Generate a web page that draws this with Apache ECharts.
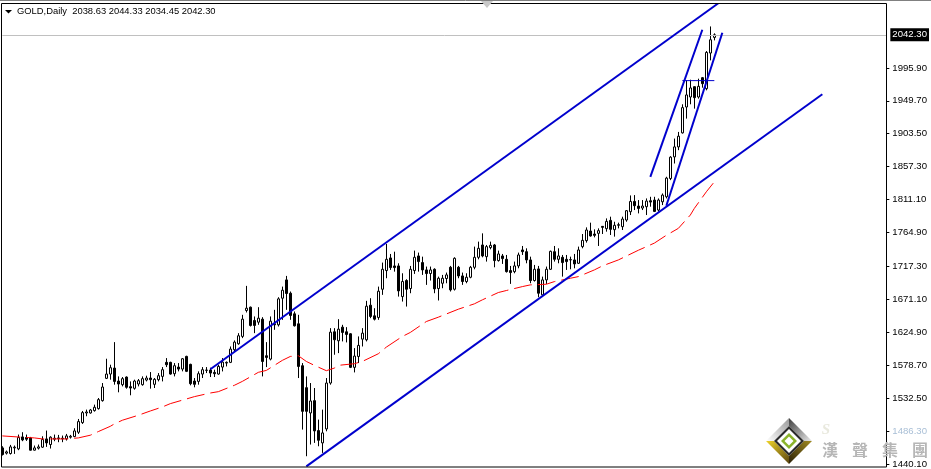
<!DOCTYPE html>
<html><head><meta charset="utf-8">
<style>html,body{margin:0;padding:0;background:#fff}#c{width:931px;height:469px}</style>
<script src="https://cdn.jsdelivr.net/npm/echarts@6/dist/echarts.min.js"></script>
</head><body><div id="c"></div>
<script>
const symbolName = 'GOLD,Daily';
const quote = [2038.63, 2044.33, 2034.45, 2042.30];
const priceTicks = [1995.90,1949.70,1903.50,1857.30,1811.10,1764.90,1717.30,1671.10,1624.90,1578.70,1532.50,1486.30,1440.10];
const lastPrice = 2042.30;
// [open, close, low, high]
const candles = [
[1462.7,1453.4,1452,1465],[1455.3,1457.1,1453.4,1459],[1454.8,1464.1,1453.4,1466.9],[1462.7,1463.7,1454.3,1466],
[1461.3,1477.2,1459.5,1481.4],[1478.1,1473.9,1472.1,1484.7],[1477.2,1474.9,1472.5,1481.4],[1476.7,1459.5,1459,1478.1],
[1459.5,1462.7,1459,1466],[1462.3,1464.1,1460.4,1467.4],[1463.7,1474.4,1462.7,1479],[1475.3,1469.7,1464.1,1487],
[1467.4,1477.7,1461.8,1479],[1474.9,1476.3,1472.1,1481.4],[1475.8,1476.7,1470.7,1480.9],[1475.3,1476.3,1470.7,1480],
[1475.3,1479.5,1473,1482.3],[1477.7,1479,1475.8,1480.9],[1478.6,1486.5,1477.7,1490.3],[1484.7,1499.6,1482.3,1503.3],
[1498.2,1512.2,1496.3,1514.5],[1511.7,1513.1,1507.1,1516.4],[1511.7,1515.9,1510.8,1517.3],[1515,1519.7,1513.6,1523.4],
[1517.8,1530.4,1516.4,1532.7],[1529,1548.1,1527.6,1553.7],[1560.3,1566.3,1559.3,1587.8],[1566.3,1575.2,1558.4,1579.4],
[1574.7,1556,1551.4,1611.1],[1556.5,1552.3,1540.7,1563],[1551.4,1559.8,1549,1562.1],[1562.1,1547.7,1545.8,1563],
[1548.6,1546.7,1536.5,1556],[1546.3,1556.5,1544.4,1558.4],[1552.3,1557,1549,1559.3],[1551.4,1559.8,1550,1563],
[1557.9,1560.7,1556,1564],[1560.7,1558.4,1545.8,1569.1],[1551.9,1558.9,1546.7,1560.7],[1558.4,1564,1556,1567.7],
[1563,1572.4,1556,1576.1],[1582.7,1579.4,1576.1,1588.7],[1582.7,1566.3,1565.4,1583.6],[1566.8,1578,1563,1581.7],
[1576.1,1573.3,1570.1,1581.7],[1573.3,1587.8,1570.1,1588.7],[1591.1,1570.1,1569.1,1592],[1579.9,1552.8,1550.5,1580.8],
[1556.5,1551.9,1547.7,1560.7],[1556,1566.8,1551.4,1570.1],[1566.3,1572.4,1560.7,1576.1],[1571.5,1571.9,1567.7,1576.1],
[1571.9,1567.7,1562.1,1575.2],[1568.6,1566.8,1562.1,1572.4],[1566.3,1577,1565.4,1579.4],[1576.1,1583.1,1570,1588.7],
[1581.7,1582.7,1577,1584],[1582.7,1601.3,1581.7,1605],[1600.4,1611.1,1598.1,1613.5],[1608.8,1620,1607.4,1623.7],
[1619.1,1643.3,1616.7,1649.4],[1655.5,1658.7,1652.7,1690],[1660.1,1634.5,1633,1661],[1641.5,1634.5,1623.7,1647.1],
[1639.1,1644.7,1635.4,1660.1],[1643.3,1584,1563,1646.1],[1592,1589.6,1576.1,1611.1],[1587.3,1640.5,1585.5,1647.1],
[1636.8,1635.4,1628.4,1656.4],[1635.4,1671.8,1633,1674.1],[1672.7,1683.9,1642.4,1689],[1698.4,1679.3,1656.4,1704],
[1679.7,1648.5,1642.4,1682.1],[1650.8,1634,1633,1654.1],[1636.8,1577,1560.7,1649.4],[1578,1514,1488.4,1581.7],
[1547.2,1514,1451,1563],[1511.7,1528.5,1467.4,1553.7],[1529,1486.5,1469.7,1546.7],[1487,1473.4,1465,1502.4],
[1469.7,1483.7,1455.7,1516.4],[1489.3,1553.7,1486,1560.7],[1553.7,1625.1,1551.4,1630.7],[1625.6,1614.4,1593.4,1630.7],
[1613,1629.3,1595.7,1643.3],[1632.1,1624.7,1612.1,1635.4],[1625.6,1621.9,1610.7,1632.1],[1622.8,1575.7,1574.7,1623.7],
[1575.7,1591.5,1568.6,1602.7],[1591,1606.5,1581.7,1619.1],[1615.3,1623.7,1605,1630.7],[1614.4,1661.5,1612.1,1669],
[1662.9,1647.1,1644.7,1672.7],[1648,1643.3,1641.5,1658.7],[1645.7,1682.5,1642.4,1689],[1685.3,1713.3,1677.4,1722.7],
[1711.5,1727.3,1700.7,1748.8],[1729.2,1715.7,1712.4,1734.8],[1718,1715.7,1710,1738],[1718,1683,1675,1721.7],
[1675,1696.1,1668,1707.7],[1697.5,1685.3,1661,1699.3],[1686.3,1713.3,1679.7,1718],[1711.5,1730.1,1706.8,1739.5],
[1732,1724.1,1710,1736.7],[1722.7,1712.4,1705.4,1731],[1712.4,1707.3,1691.4,1717.1],[1707.3,1712.4,1697.5,1717.1],
[1713.3,1685.8,1679.7,1714.7],[1686.3,1700.7,1669.5,1703],[1693.7,1700.7,1686.7,1705.4],[1700.3,1705.4,1693.7,1708.7],
[1716.1,1684.4,1682.1,1718],[1685.3,1728.7,1683.5,1730.1],[1716.1,1704,1700.7,1718],[1704,1696.1,1691.4,1708.7],
[1696.1,1702.1,1693.7,1707.7],[1702.1,1716.1,1700.7,1718],[1716.1,1730.1,1713.3,1745.1],[1730.1,1742.7,1727.3,1752.1],
[1747.4,1732,1730.1,1763.7],[1731,1745.1,1724.1,1747.4],[1743.7,1746.9,1741.3,1752.1],[1747.4,1725.5,1716.1,1748.8],
[1725.5,1734.8,1724.1,1739.5],[1732,1728.3,1720.8,1734.8],[1727.3,1710,1708.7,1733.4],[1711.5,1708.7,1692.8,1718],
[1710,1718,1707.7,1724.1],[1718,1733.4,1714.7,1736.7],[1740.4,1738,1733.4,1746],[1738,1726.4,1721.7,1742.7],
[1726.4,1697.5,1693.7,1731],[1697.5,1713.3,1696.1,1719.4],[1713.8,1679.7,1674.1,1718],[1677.4,1698.4,1675,1703],
[1698.4,1713.3,1692.8,1717.1],[1713.3,1738.5,1712.4,1739.5],[1738,1727.3,1724.1,1746],[1727.3,1732,1721.7,1742.7],
[1730.1,1722.7,1703,1733.4],[1727.3,1724.1,1712.4,1733.4],[1726.4,1726.9,1713.3,1731],[1726.4,1720.8,1714.7,1734.8],
[1721.7,1740.4,1720.8,1745.1],[1745.1,1753.9,1742.7,1762.8],[1753.5,1768.4,1750.7,1772.1],[1767,1760,1759.1,1778.7],
[1762.8,1760.9,1758.1,1769.3],[1763.7,1767.5,1746,1770.7],[1773.5,1772.1,1762.8,1774],[1770.3,1780.5,1766.1,1784.7],
[1781.9,1769.3,1761.4,1787.1],[1768.9,1775,1759.1,1780],[1775,1775.9,1770.7,1778.7],[1773.1,1783.8,1768.4,1787.1],
[1782.4,1795.5,1780,1796.4],[1794.1,1808.5,1789.4,1816.9],[1808.5,1802.5,1796.4,1817.4],[1802,1798.7,1791.7,1810.4],
[1799.2,1802,1796.4,1810.4],[1801.1,1809,1789.4,1812.7],[1809.5,1807.6,1801.1,1815],[1810.4,1794.5,1793.6,1815],
[1796.4,1810.4,1794.1,1812.7],[1808,1817.4,1803.4,1819.7],[1815,1841.2,1812.7,1843.1],[1840.7,1870.6,1838.4,1872],
[1871,1885,1861.7,1896.7],[1885,1900,1880.4,1906],[1904.7,1940.1,1903.7,1944.8],[1941,1957.9,1924.7,1978.4],
[1955,1967.7,1944.8,1979.3],[1969.5,1954.1,1938.7,1970],[1955,1970,1952.7,1980.7],[1982.1,1973.7,1968.1,1983.1],
[1966.7,2017.6,1964.4,2019.5],[2016.7,2035.3,2006.4,2054],[2038.63,2042.30,2034.45,2044.33]
];
// moving average: bar index, value
const maBars = [0,4,8,10,16,19,22,24,27,28,30,34,37,40,42,46,48,52,54,58,60,64,66,70,72,74,76,78,81,83,84,88,90,94,96,100,102,106,109,114,118,120,124,126,130,132,136,138,142,144,148,150,154,159,163,166,169,172,173,176,178];
const maValues = [1479.5,1478,1476.7,1475.3,1475.3,1476.7,1480.5,1485.6,1493,1496.3,1501.5,1508.5,1514.5,1520.1,1524.8,1531.3,1534.6,1539.7,1541.6,1550.5,1556,1568.7,1571.4,1585.5,1591,1592,1584,1578.5,1571,1574.7,1578.5,1580.8,1584,1594.8,1604.1,1619,1624.7,1640,1646.1,1657.3,1664.8,1670.4,1680.7,1683.5,1689,1691.4,1692.3,1696,1700.7,1703,1712.4,1718,1726.4,1740,1750,1761,1770.7,1789.4,1798.7,1822,1836];
// drawn trend lines: [bar, price] end points
const channelUpper = [[52,1573.1],[179,2086.5]];
const channelLower = [[76,1436.7],[205,1958.8]];
const steepUpper = [[162,1843],[175,2049.4]];
const steepLower = [[166,1802.4],[180,2045.2]];
const levelLine = [[170,1978],[178,1978]];
const barSlots = Array.from({length:222},(_,i)=>String(i));
const watermarkChars = ['漢','聲','集','團'];

const FONT = '"Liberation Sans", Arial, sans-serif';
const BLUE = '#0000cd';
const trend = (data,width)=>({type:'line',data,showSymbol:false,symbol:'none',z:5,silent:true,
  lineStyle:{color:BLUE,width:width},animation:false});

function diamond(cx,cy,r){return [[cx,cy-r],[cx+r,cy],[cx,cy+r],[cx-r,cy]];}
const LX=789, LY=441, R=23, r2=15;
const logo = [];
const P=(pts,fill)=>logo.push({type:'polygon',shape:{points:pts},style:{fill},z:20,silent:true});
const outerT=[LX,LY-R],outerR=[LX+R,LY],outerB=[LX,LY+R],outerL=[LX-R,LY];
const innerT=[LX,LY-r2],innerR=[LX+r2,LY],innerB=[LX,LY+r2],innerL=[LX-r2,LY];
const grad=(x,y,x2,y2,a,b)=>({type:'linear',x,y,x2,y2,colorStops:[{offset:0,color:a},{offset:1,color:b}]});
P([outerL,outerT,innerT,innerL],grad(0,1,1,0,'#ffffff','#9a9a9a'));
P([outerT,outerR,innerR,innerT],grad(0,0,1,1,'#404040','#e8e8e8'));
P([outerR,outerB,innerB,innerR],grad(1,0,0,1,'#a08a20','#2a2008'));
P([outerB,outerL,innerL,innerB],grad(1,1,0,0,'#5a4510','#f0d428'));
P(diamond(LX,LY,r2),'#2a2a2a');
P(diamond(LX,LY,r2-3),'#ffffff');
P(diamond(LX,LY,8),'#8ab32a');
P(diamond(LX,LY,4.5),'#ffffff');

const chart = echarts.init(document.getElementById('c'),null,{renderer:'canvas'});
chart.setOption({
  animation:false,
  backgroundColor:'#ffffff',
  title:{text:symbolName+'  '+quote.map(v=>v.toFixed(2)).join(' '),left:17,top:7,padding:0,
    textStyle:{fontFamily:FONT,fontSize:9.4,fontWeight:'normal',color:'#000'}},
  grid:{left:2.33,top:4.5,width:884,height:463,containLabel:false},
  xAxis:{type:'category',data:barSlots,boundaryGap:false,axisLine:{show:false},axisTick:{show:false},axisLabel:{show:false},splitLine:{show:false}},
  yAxis:{type:'value',position:'right',min:1436.6,max:2084.8,scale:true,
    axisLine:{show:false},splitLine:{show:false},
    axisTick:{show:true,length:3,lineStyle:{color:'#000'},customValues:priceTicks},
    axisLabel:{show:true,margin:6,customValues:priceTicks,fontFamily:FONT,fontSize:9.6,padding:[2,0,0,0],
      color:v=>Math.abs(v-1486.3)<0.01?'#a9bfd6':'#000',formatter:v=>Number(v).toFixed(2)}},
  graphic:{elements:[
    {type:'rect',shape:{x:1.5,y:3.5,width:885,height:463.5},style:{fill:'none',stroke:'#000',lineWidth:1},z:10,silent:true},
    {type:'line',shape:{x1:0,y1:0.5,x2:931,y2:0.5},style:{stroke:'#808080',lineWidth:1},z:10,silent:true},
    {type:'polygon',shape:{points:[[481,1],[493,1],[487,8]]},style:{fill:'#c8c8c8'},z:11,silent:true},
    {type:'polygon',shape:{points:[[5,10],[12,10],[8.5,13.5]]},style:{fill:'#000'},z:11,silent:true},
    ...logo,
    ...watermarkChars.map((t,i)=>({type:'text',x:830+30*i,y:450,style:{text:t,fill:'#b6b6b6',font:'bold 16px "Noto Sans CJK TC"',textAlign:'center',textVerticalAlign:'middle'},z:21,silent:true})),
    {type:'text',x:826,y:430,style:{text:'S',fill:'#e9e9de',font:'italic bold 15px "Liberation Serif"',textAlign:'center',textVerticalAlign:'middle'},z:19,silent:true}
  ]},
  series:[
    {type:'candlestick',data:candles,barWidth:3,clip:false,z:3,silent:true,
     itemStyle:{color:'#ffffff',color0:'#000000',borderColor:'#000000',borderColor0:'#000000',borderWidth:1}},
    {type:'line',data:maBars.map((b,i)=>[b,maValues[i]]),showSymbol:false,symbol:'none',z:4,silent:true,
     lineStyle:{color:'#ff0000',width:1,type:[18,6]},
     markLine:{silent:true,symbol:'none',animation:false,precision:2,
       lineStyle:{color:'#c0c0c0',width:1,type:'solid'},
       label:{position:'end',distance:4,formatter:()=>lastPrice.toFixed(2),backgroundColor:'#000',color:'#fff',
         fontFamily:FONT,fontSize:9.6,padding:[2,2,1,2]},
       data:[{yAxis:lastPrice}]}},
    trend(channelUpper,2),trend(channelLower,2),trend(steepUpper,2),trend(steepLower,2),trend(levelLine,1)
  ]
});
</script></body></html>
